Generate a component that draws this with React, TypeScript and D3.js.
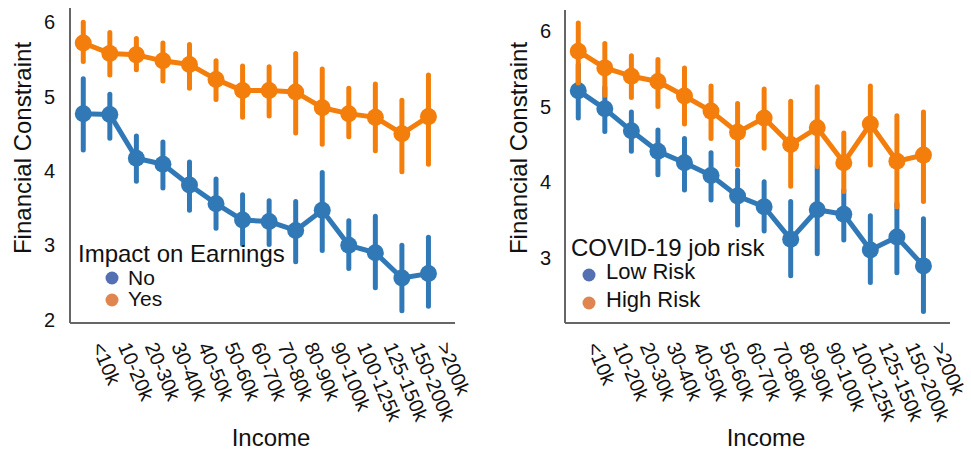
import React from "react";
import * as d3 from "d3";

const incomeLabels = ["<10k", "10-20k", "20-30k", "30-40k", "40-50k", "50-60k", "60-70k", "70-80k", "80-90k", "90-100k", "100-125k", "125-150k", "150-200k", ">200k"];

// Left panel: Impact on Earnings
const earnNoMean = [4.77, 4.76, 4.17, 4.09, 3.81, 3.56, 3.34, 3.32, 3.2, 3.47, 3.0, 2.9, 2.56, 2.62];
const earnNoLow = [4.28, 4.44, 3.86, 3.77, 3.47, 3.23, 3.01, 3.01, 2.78, 2.93, 2.69, 2.43, 2.12, 2.18];
const earnNoHigh = [5.24, 5.03, 4.47, 4.39, 4.12, 3.89, 3.68, 3.6, 3.59, 3.98, 3.33, 3.39, 3.0, 3.11];
const earnYesMean = [5.72, 5.58, 5.56, 5.48, 5.43, 5.23, 5.08, 5.08, 5.06, 4.85, 4.77, 4.72, 4.5, 4.73];
const earnYesLow = [5.47, 5.29, 5.36, 5.21, 5.11, 4.96, 4.72, 4.74, 4.51, 4.36, 4.46, 4.27, 3.99, 4.09];
const earnYesHigh = [6.0, 5.86, 5.78, 5.72, 5.7, 5.48, 5.41, 5.4, 5.58, 5.37, 5.11, 5.17, 4.95, 5.29];

// Right panel: COVID-19 job risk
const riskLowMean = [5.21, 4.97, 4.68, 4.41, 4.26, 4.09, 3.82, 3.68, 3.25, 3.64, 3.58, 3.11, 3.28, 2.9];
const riskLowLow = [4.85, 4.67, 4.41, 4.1, 3.9, 3.77, 3.44, 3.36, 2.77, 3.06, 3.24, 2.68, 2.81, 2.3];
const riskLowHigh = [5.55, 5.25, 4.93, 4.69, 4.58, 4.39, 4.16, 4.01, 3.75, 4.21, 3.9, 3.56, 3.72, 3.52];
const riskHighMean = [5.73, 5.51, 5.4, 5.33, 5.14, 4.94, 4.66, 4.85, 4.5, 4.72, 4.26, 4.77, 4.28, 4.36];
const riskHighLow = [5.31, 5.15, 5.12, 5.0, 4.77, 4.58, 4.23, 4.45, 3.95, 4.21, 3.88, 4.23, 3.68, 3.75];
const riskHighHigh = [6.1, 5.83, 5.67, 5.62, 5.51, 5.27, 5.04, 5.23, 5.07, 5.26, 4.65, 5.27, 4.88, 4.93];

const leftTicks = [2, 3, 4, 5, 6];
const rightTicks = [3, 4, 5, 6];

const LINE_BLUE = "#3179b6";
const LINE_ORANGE = "#f37e0b";
const LEG_BLUE = "#5470b3";
const LEG_ORANGE = "#e0854f";
const FONT = "'Liberation Sans', Arial, sans-serif";

type Series = { mean: number[]; low: number[]; high: number[]; color: string };

function Panel(props: {
  x0: number; x1: number; yTop: number; yBot: number;
  yDomain: [number, number]; ticks: number[]; tickX: number;
  series: Series[]; ylabelX: number; ylabelY: number; xlabelX: number;
  legTitle: string; legTitleX: number; legTitleY: number;
  legItems: { label: string; color: string; cy: number; ty: number }[];
  legCx: number; legTx: number; legFont: number;
}) {
  const x = d3.scaleLinear().domain([-0.5, 14]).range([props.x0, props.x1]);
  const y = d3.scaleLinear().domain(props.yDomain).range([props.yBot, props.yTop]);
  const line = d3.line<number>().x((_, i) => x(i)).y((d) => y(d));
  return (
    <g fontFamily={FONT}>
      <line x1={props.x0} x2={props.x0} y1={props.yTop} y2={props.yBot} stroke="#666" strokeWidth={2} />
      <line x1={props.x0} x2={props.x1} y1={props.yBot} y2={props.yBot} stroke="#666" strokeWidth={2} />
      {props.ticks.map((t) => (
        <text key={t} x={props.tickX} y={y(t)} textAnchor="end" dominantBaseline="central" fontSize={20} fill="#111">{t}</text>
      ))}
      {incomeLabels.map((l, i) => (
        <text key={l} transform={`translate(${x(i) + 8},346) rotate(67)`} fontSize={20} fill="#111">{l}</text>
      ))}
      <text transform={`translate(${props.ylabelX},${props.ylabelY}) rotate(-90)`} textAnchor="middle" fontSize={24} fill="#111">Financial Constraint</text>
      <text x={props.xlabelX} y={446} textAnchor="middle" fontSize={24} fill="#111">Income</text>
      {props.series.map((s, si) => (
        <g key={si}>
          {s.mean.map((_, i) => (
            <line key={i} x1={x(i)} x2={x(i)} y1={y(s.low[i])} y2={y(s.high[i])} stroke={s.color} strokeWidth={5} strokeLinecap="round" />
          ))}
          <path d={line(s.mean) || ""} fill="none" stroke={s.color} strokeWidth={5} strokeLinejoin="round" />
          {s.mean.map((m, i) => (
            <circle key={i} cx={x(i)} cy={y(m)} r={8.5} fill={s.color} />
          ))}
        </g>
      ))}
      <text x={props.legTitleX} y={props.legTitleY} fontSize={24} fill="#111">{props.legTitle}</text>
      {props.legItems.map((it) => (
        <g key={it.label}>
          <circle cx={props.legCx} cy={it.cy} r={6.5} fill={it.color} />
          <text x={props.legTx} y={it.ty} fontSize={props.legFont} fill="#111">{it.label}</text>
        </g>
      ))}
    </g>
  );
}

export default function App() {
  return (
    <svg width={971} height={451} style={{ position: "absolute", left: 0, top: 0, background: "#fff" }}>
      <Panel
        x0={70} x1={455} yTop={8} yBot={323} yDomain={[1.956, 6.19]} ticks={leftTicks} tickX={55}
        series={[
          { mean: earnNoMean, low: earnNoLow, high: earnNoHigh, color: LINE_BLUE },
          { mean: earnYesMean, low: earnYesLow, high: earnYesHigh, color: LINE_ORANGE },
        ]}
        ylabelX={31} ylabelY={148} xlabelX={271}
        legTitle="Impact on Earnings" legTitleX={78} legTitleY={262}
        legItems={[
          { label: "No", color: LEG_BLUE, cy: 278, ty: 285 },
          { label: "Yes", color: LEG_ORANGE, cy: 300, ty: 306 },
        ]}
        legCx={112} legTx={128} legFont={21}
      />
      <Panel
        x0={565} x1={950} yTop={10} yBot={323} yDomain={[2.147, 6.273]} ticks={rightTicks} tickX={551}
        series={[
          { mean: riskLowMean, low: riskLowLow, high: riskLowHigh, color: LINE_BLUE },
          { mean: riskHighMean, low: riskHighLow, high: riskHighHigh, color: LINE_ORANGE },
        ]}
        ylabelX={527} ylabelY={148} xlabelX={766}
        legTitle="COVID-19 job risk" legTitleX={571} legTitleY={256}
        legItems={[
          { label: "Low Risk", color: LEG_BLUE, cy: 275, ty: 279 },
          { label: "High Risk", color: LEG_ORANGE, cy: 303, ty: 307 },
        ]}
        legCx={589} legTx={606} legFont={22}
      />
    </svg>
  );
}
